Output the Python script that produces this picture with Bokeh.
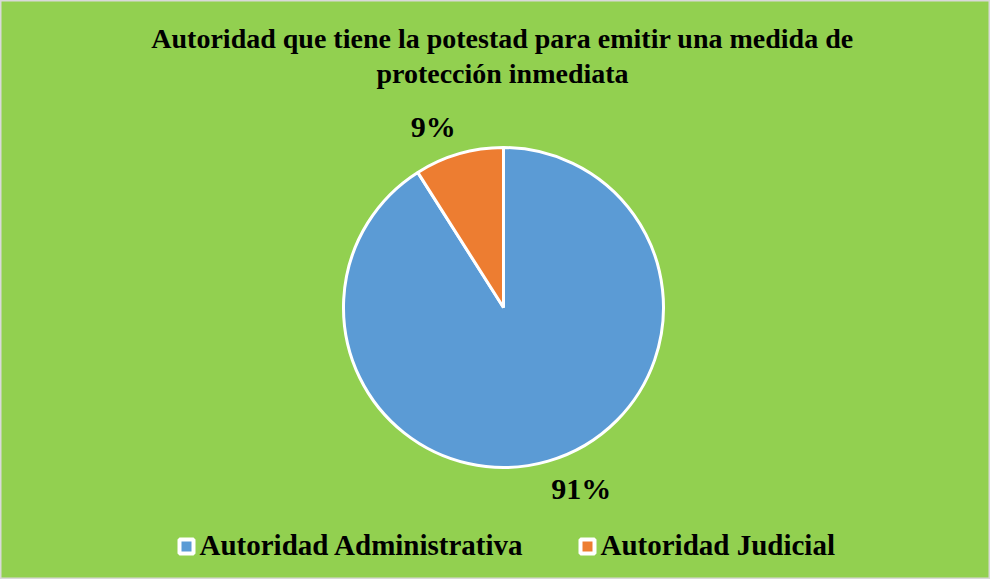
import numpy as np
from bokeh.plotting import figure
from bokeh.models import Range1d, ColumnDataSource
from bokeh.core.properties import value
from bokeh.embed import file_html
from bokeh.resources import INLINE

title_lines = ["Autoridad que tiene la potestad para emitir una medida de", "protección inmediata"]
categories = ["Autoridad Administrativa", "Autoridad Judicial"]
values = [91, 9]
labels = ["91%", "9%"]
colors = ["#5B9BD5", "#ED7D31"]

W, H = 990, 579
CX, CY, R = 503, 272, 160
FONT = value("Liberation Serif")

p = figure(width=W, height=H, output_backend="svg", toolbar_location=None,
           x_range=Range1d(0, W), y_range=Range1d(0, H), min_border=0)
p.axis.visible = False
p.grid.visible = False
p.background_fill_color = "#92D050"
p.border_fill_color = "#92D050"
p.outline_line_color = "#D9D9D9"
p.outline_line_width = 2

vals = np.array(values, dtype=float)
frac = vals / vals.sum()
cum_after = np.cumsum(frac)
cum_before = cum_after - frac
start = np.pi / 2 - 2 * np.pi * cum_after
end = np.pi / 2 - 2 * np.pi * cum_before
mid = (start + end) / 2

src = ColumnDataSource(dict(start=start, end=end, color=colors, cat=categories))
p.wedge(x=CX, y=CY, radius=R, start_angle="start", end_angle="end", direction="anticlock",
        fill_color="color", line_color="white", line_width=3, source=src)

# outside-end data labels
LR = R + 11
for lab, a in zip(labels, mid):
    c, s = np.cos(a), np.sin(a)
    p.text(x=[CX + LR * c], y=[CY + LR * s], text=[lab], text_font=FONT, text_font_style="bold",
           text_font_size="30px", text_align="right" if c < 0 else "left",
           text_baseline="bottom" if s > 0 else "top", text_color="black")

tsrc = ColumnDataSource(dict(x=[502, 502], y=[541, 506], t=title_lines))
p.text(x="x", y="y", text="t", source=tsrc, text_font=FONT, text_font_style="bold",
       text_font_size="28px", text_align="center", text_baseline="alphabetic", text_color="black")

leg_x = [186, 587]
leg_y = [33, 33]
p.scatter(x=leg_x, y=leg_y, marker="square", size=14, fill_color=colors,
          line_color="white", line_width=4)
gsrc = ColumnDataSource(dict(x=[x + 13 for x in leg_x], y=[35, 35], t=categories))
p.text(x="x", y="y", text="t", source=gsrc, text_font=FONT, text_font_style="bold",
       text_font_size="29px", text_align="left", text_baseline="alphabetic", text_color="black")

open("out.html", "w").write(file_html(p, INLINE))
